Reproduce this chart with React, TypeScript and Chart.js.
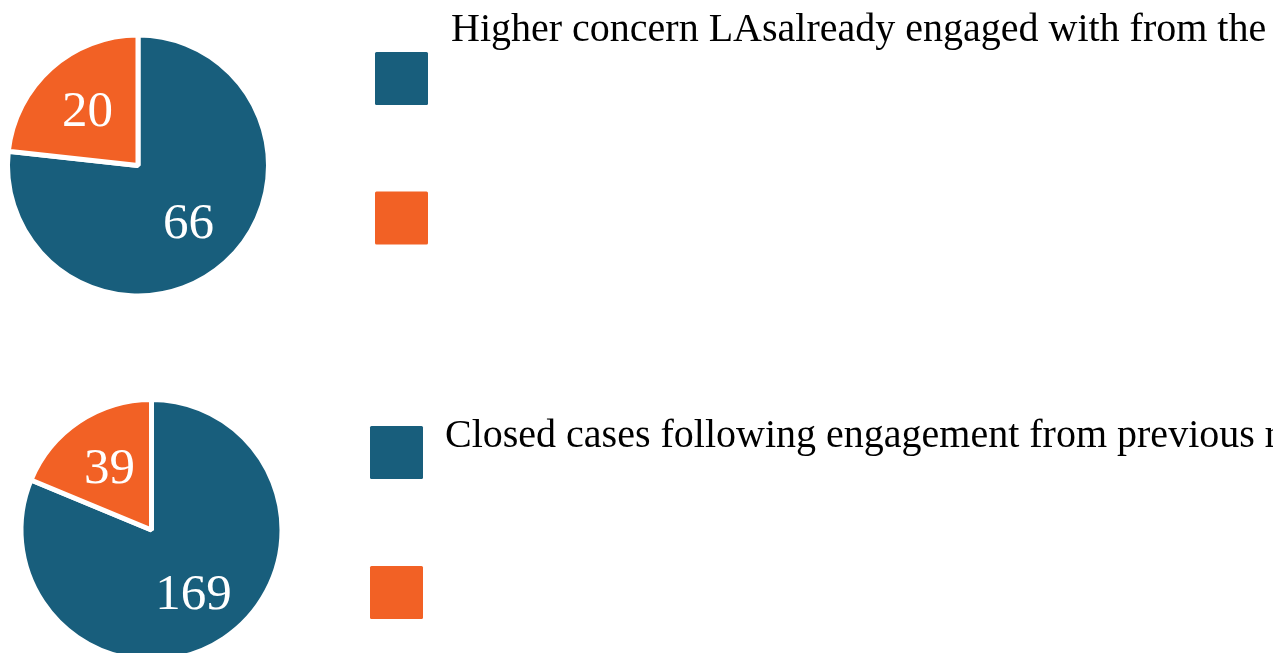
import React, { useEffect, useRef } from "react";
import { Chart, registerables } from "chart.js";

Chart.register(...registerables);

// ---- data ----
const sliceColors = ["#185E7C", "#F26125"];

const chart1Labels = [
  "Higher concern LAsalready engaged with from the previous reporting period",
  "",
];
const chart1Values = [66, 20];

const chart2Labels = [
  "Closed cases following engagement from previous reporting period",
  "",
];
const chart2Values = [169, 39];

const W = 1273;

// white numbers inside the slices
const sliceLabelsPlugin = {
  id: "sliceLabels",
  afterDatasetsDraw(chart: any, _args: any, opts: any) {
    const ctx = chart.ctx;
    const meta = chart.getDatasetMeta(0);
    const values = chart.data.datasets[0].data;
    ctx.save();
    ctx.font = `${opts.size}px "Liberation Serif", "Times New Roman", serif`;
    ctx.fillStyle = "#ffffff";
    ctx.textAlign = "center";
    ctx.textBaseline = "middle";
    meta.data.forEach((arc: any, i: number) => {
      const p = arc.getProps(["x", "y", "startAngle", "endAngle", "outerRadius"], true);
      const mid = (p.startAngle + p.endAngle) / 2;
      const r = p.outerRadius * opts.ratio;
      ctx.fillText(String(values[i]), p.x + Math.cos(mid) * r, p.y + Math.sin(mid) * r + 3);
    });
    ctx.restore();
  },
};

// legend to the right of the pie
const sideLegendPlugin = {
  id: "sideLegend",
  afterDraw(chart: any, _args: any, opts: any) {
    const ctx = chart.ctx;
    const labels: string[] = chart.data.labels;
    const colors: string[] = chart.data.datasets[0].backgroundColor;
    ctx.save();
    labels.forEach((label, i) => {
      const top = opts.top + i * opts.pitch;
      ctx.fillStyle = colors[i];
      ctx.beginPath();
      (ctx as any).roundRect(opts.left, top, opts.box, opts.box, 1.5);
      ctx.fill();
      if (label) {
        ctx.fillStyle = "#000000";
        ctx.font = `${opts.fontSize}px "Liberation Serif", "Times New Roman", serif`;
        ctx.textAlign = "left";
        ctx.textBaseline = "alphabetic";
        ctx.fillText(label, opts.textX, opts.textBaseline + i * opts.pitch);
      }
    });
    ctx.restore();
  },
};

type BlockProps = {
  labels: string[];
  values: number[];
  top: number;
  height: number;
  padding: { left: number; right: number; top: number; bottom: number };
  legend: any;
};

function PieBlock({ labels, values, top, height, padding, legend }: BlockProps) {
  const ref = useRef<HTMLCanvasElement | null>(null);
  useEffect(() => {
    if (!ref.current) return;
    const chart = new Chart(ref.current, {
      type: "pie",
      data: {
        labels,
        datasets: [
          {
            data: values,
            backgroundColor: sliceColors,
            borderColor: "#ffffff",
            borderWidth: 5,
            hoverBorderWidth: 5,
            hoverOffset: 0,
          },
        ],
      },
      options: {
        responsive: false,
        animation: false,
        events: [],
        layout: { padding },
        plugins: {
          legend: { display: false },
          tooltip: { enabled: false },
          sliceLabels: { size: 51, ratio: 0.58 },
          sideLegend: legend,
        } as any,
      },
      plugins: [sliceLabelsPlugin, sideLegendPlugin],
    });
    return () => chart.destroy();
  }, []);
  return (
    <canvas
      ref={ref}
      width={W}
      height={height}
      style={{ position: "absolute", left: 0, top, width: W, height }}
    />
  );
}

export default function App() {
  return (
    <div
      style={{
        position: "absolute",
        left: 0,
        top: 0,
        width: W,
        height: 653,
        overflow: "hidden",
        background: "#ffffff",
      }}
    >
      <PieBlock
        labels={chart1Labels}
        values={chart1Values}
        top={0}
        height={330}
        padding={{ left: 5, right: W - 271, top: 32.5, bottom: 31.5 }}
        legend={{ left: 375, top: 52, box: 53, pitch: 139.5, fontSize: 40, textX: 451, textBaseline: 41 }}
      />
      <PieBlock
        labels={chart2Labels}
        values={chart2Values}
        top={360}
        height={340}
        padding={{ left: 18.5, right: W - 284.5, top: 37, bottom: 37 }}
        legend={{ left: 370, top: 66, box: 53, pitch: 140, fontSize: 40, textX: 445, textBaseline: 87 }}
      />
    </div>
  );
}
